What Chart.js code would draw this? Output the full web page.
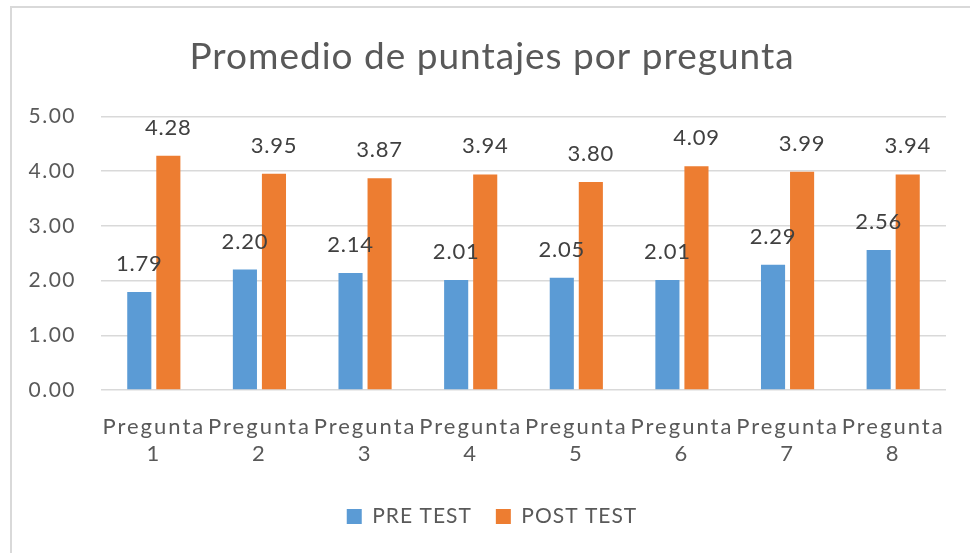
<!DOCTYPE html>
<html>
<head>
<meta charset="utf-8">
<script src="https://cdn.jsdelivr.net/npm/chart.js"></script>
<style>
  html, body { margin: 0; padding: 0; background: #fff; }
  #wrap { position: relative; width: 970px; height: 553px; overflow: hidden; }
  #frame { position: absolute; left: 10px; top: 6px; width: 980px; height: 580px;
           border: 2px solid #d9d9d9; box-sizing: border-box; }
  #chart { position: absolute; left: 0; top: 0; }
</style>
</head>
<body>
<div id="wrap">
  <div id="frame"></div>
  <canvas id="chart" width="970" height="553"></canvas>
</div>
<script>
const categories = ['Pregunta 1', 'Pregunta 2', 'Pregunta 3', 'Pregunta 4',
                    'Pregunta 5', 'Pregunta 6', 'Pregunta 7', 'Pregunta 8'];
const preTest = [1.79, 2.20, 2.14, 2.01, 2.05, 2.01, 2.29, 2.56];
const postTest = [4.28, 3.95, 3.87, 3.94, 3.80, 4.09, 3.99, 3.94];
const yTickLabels = ['0.00', '1.00', '2.00', '3.00', '4.00', '5.00'];

const FONT = 'Lato, "Open Sans", sans-serif';
const TEXT = '#595959';

// Office-style text is drawn a bit looser than the canvas default
const tickSpacing = { x: '2px', y: '1.5px' };
const textSpacing = {
  id: 'textSpacing',
  beforeLayout(chart) { chart.ctx.letterSpacing = '1px'; },
  beforeDraw(chart) { chart.ctx.letterSpacing = '1px'; },
  afterLayout(chart) {
    Object.values(chart.scales).forEach(s => {
      if (s._spaced) return;
      s._spaced = true;
      const drawLabels = s.drawLabels.bind(s);
      s.drawLabels = area => {
        const prev = s.ctx.letterSpacing;
        s.ctx.letterSpacing = tickSpacing[s.id] || prev;
        drawLabels(area);
        s.ctx.letterSpacing = prev;
      };
    });
  }
};

// value labels above each bar
const barValues = {
  id: 'barValues',
  afterDatasetsDraw(chart) {
    const ctx = chart.ctx;
    ctx.save();
    ctx.letterSpacing = '0.8px';
    ctx.font = '22px ' + FONT;
    ctx.fillStyle = '#404040';
    ctx.textAlign = 'center';
    ctx.textBaseline = 'middle';
    chart.data.datasets.forEach((ds, i) => {
      chart.getDatasetMeta(i).data.forEach((bar, j) => {
        ctx.fillText(ds.data[j].toFixed(2), bar.x, bar.y - 28);
      });
    });
    ctx.restore();
  }
};

new Chart(document.getElementById('chart'), {
  type: 'bar',
  data: {
    labels: categories.map(c => c.split(' ')),
    datasets: [
      { label: 'PRE TEST', data: preTest, backgroundColor: '#5b9bd5' },
      { label: 'POST TEST', data: postTest, backgroundColor: '#ed7d31' }
    ]
  },
  options: {
    responsive: false,
    animation: false,
    devicePixelRatio: 1,
    layout: { padding: { left: 14, right: 0, top: 0, bottom: 16 } },
    datasets: { bar: { categoryPercentage: 0.55, barPercentage: 0.83 } },
    plugins: {
      title: {
        display: true,
        text: 'Promedio de puntajes por pregunta',
        color: TEXT,
        font: { family: FONT, size: 37, weight: 'normal' },
        padding: { top: 35, bottom: 37 }
      },
      legend: {
        position: 'bottom',
        labels: {
          color: TEXT,
          font: { family: FONT, size: 21 },
          boxWidth: 15,
          boxHeight: 15,
          padding: 24
        }
      },
      tooltip: { enabled: false }
    },
    scales: {
      x: {
        grid: { display: false },
        border: { display: false },
        ticks: { color: TEXT, font: { family: FONT, size: 22, lineHeight: 1.23 }, padding: 15, maxRotation: 0 },
        afterFit: s => { s.height = 92; }
      },
      y: {
        min: 0,
        max: 5,
        border: { display: false },
        grid: { color: '#d9d9d9', lineWidth: 1.5, drawTicks: false },
        ticks: {
          stepSize: 1,
          color: TEXT,
          font: { family: FONT, size: 21 },
          padding: 25,
          callback: v => yTickLabels[v]
        },
        afterFit: s => { s.width = 87; }
      },
      // empty right-hand margin beside the plot
      yRight: {
        position: 'right',
        min: 0,
        max: 5,
        grid: { display: false },
        border: { display: false },
        ticks: { display: false },
        afterFit: s => { s.width = 24; }
      }
    }
  },
  plugins: [textSpacing, barValues]
});
</script>
</body>
</html>
